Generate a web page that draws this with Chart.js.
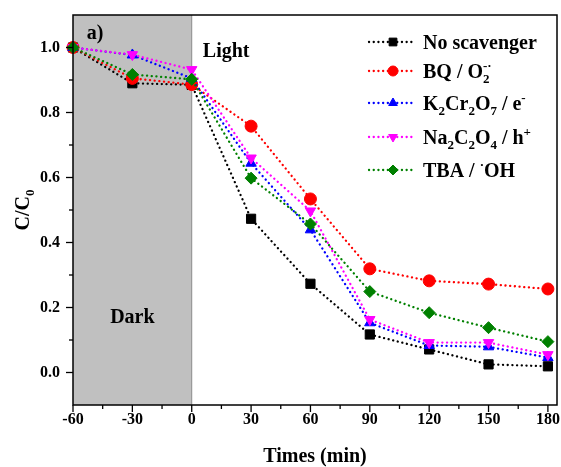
<!DOCTYPE html>
<html>
<head>
<meta charset="utf-8">
<script src="https://cdn.jsdelivr.net/npm/chart.js@4.4.1/dist/chart.umd.min.js"></script>
<style>
  html, body { margin: 0; padding: 0; background: #fff; }
  canvas { display: block; }
</style>
</head>
<body>
<canvas id="chart" width="561" height="467"></canvas>
<script>
// time points (min), dark adsorption from -60 to 0, light after 0
const times = [-60, -30, 0, 30, 60, 90, 120, 150, 180];

const noScavenger = [1.0, 0.890, 0.885, 0.473, 0.273, 0.117, 0.071, 0.025, 0.019];
const bqO2 = [1.0, 0.905, 0.886, 0.758, 0.534, 0.319, 0.282, 0.272, 0.257];
const k2cr2o7 = [1.0, 0.977, 0.905, 0.644, 0.439, 0.153, 0.083, 0.079, 0.046];
const na2c2o4 = [1.0, 0.978, 0.932, 0.660, 0.497, 0.163, 0.092, 0.092, 0.055];
const tbaOH = [1.0, 0.917, 0.902, 0.598, 0.457, 0.249, 0.184, 0.138, 0.095];

// legend labels, _{..} = subscript, ^{..} = superscript
const seriesLabels = [
  'No scavenger',
  'BQ / O_{2}^{-·}',
  'K_{2}Cr_{2}O_{7} / e^{-}',
  'Na_{2}C_{2}O_{4} / h^{+}',
  'TBA / ^{·}OH'
];
const seriesColors = ['#000000', '#ff0000', '#0000ff', '#ff00ff', '#008000'];
const seriesShapes = ['rect', 'circle', 'triangle', 'triangle', 'rectRot'];
const seriesRotation = [0, 0, 0, 180, 0];
const seriesValues = [noScavenger, bqO2, k2cr2o7, na2c2o4, tbaOH];

// tick positions (major every 30 min / 0.2, minor in between)
const xTicks = [-60, -45, -30, -15, 0, 15, 30, 45, 60, 75, 90, 105, 120, 135, 150, 165, 180];
const yTicks = [-0.1, 0, 0.1, 0.2, 0.3, 0.4, 0.5, 0.6, 0.7, 0.8, 0.9, 1.0, 1.1];
const darkRange = [-60, 0];

const FONT = "'Liberation Serif', 'Times New Roman', serif";

function parseRich(str) {
  const parts = [];
  const re = /([_^])\{([^}]*)\}|([^_^]+)/g;
  let m;
  while ((m = re.exec(str)) !== null) {
    if (m[3]) parts.push({ t: m[3], mode: '' });
    else parts.push({ t: m[2], mode: m[1] === '_' ? 'sub' : 'sup' });
  }
  return parts;
}

function drawRich(ctx, str, x, y, size) {
  const parts = parseRich(str);
  const small = Math.round(size * 0.65);
  let cx = x;
  let subStart = null;
  parts.forEach(p => {
    if (p.mode === '') {
      ctx.font = 'bold ' + size + 'px ' + FONT;
      ctx.fillText(p.t, cx, y);
      cx += ctx.measureText(p.t).width;
      subStart = null;
    } else if (p.mode === 'sub') {
      ctx.font = 'bold ' + small + 'px ' + FONT;
      ctx.fillText(p.t, cx, y + size * 0.25);
      subStart = cx;
      cx += ctx.measureText(p.t).width;
    } else {
      ctx.font = 'bold ' + small + 'px ' + FONT;
      const sx = subStart !== null ? subStart : cx;
      ctx.fillText(p.t, sx, y - size * 0.4);
      cx = Math.max(cx, sx + ctx.measureText(p.t).width);
      subStart = null;
    }
  });
}

const decorPlugin = {
  id: 'decor',
  beforeDatasetsDraw(chart) {
    const { ctx, chartArea: a, scales: { x } } = chart;
    const x0 = x.getPixelForValue(darkRange[0]);
    const x1 = x.getPixelForValue(darkRange[1]);
    ctx.save();
    ctx.fillStyle = '#c0c0c0';
    ctx.fillRect(x0, a.top, x1 - x0, a.bottom - a.top);
    ctx.strokeStyle = '#8c8c8c';
    ctx.lineWidth = 1;
    ctx.beginPath();
    ctx.moveTo(x1, a.top);
    ctx.lineTo(x1, a.bottom);
    ctx.stroke();
    ctx.restore();
  },
  afterDraw(chart) {
    const { ctx, chartArea: a, scales: { x, y } } = chart;
    ctx.save();
    // frame
    ctx.strokeStyle = '#000';
    ctx.lineWidth = 1.5;
    ctx.strokeRect(a.left, a.top, a.right - a.left, a.bottom - a.top);

    // tick marks: major with label, minor without
    ctx.lineWidth = 1.3;
    x.ticks.forEach(t => {
      const px = x.getPixelForValue(t.value);
      const len = Math.round(t.value) % 30 === 0 ? 7 : 4;
      ctx.beginPath();
      ctx.moveTo(px, a.bottom);
      ctx.lineTo(px, a.bottom + len);
      ctx.stroke();
    });
    y.ticks.forEach(t => {
      if (t.value <= y.min + 1e-6 || t.value >= y.max - 1e-6) return;
      const py = y.getPixelForValue(t.value);
      const len = Math.round(t.value * 10) % 2 === 0 ? 7 : 4;
      ctx.beginPath();
      ctx.moveTo(a.left, py);
      ctx.lineTo(a.left - len, py);
      ctx.stroke();
    });

    // annotations
    ctx.fillStyle = '#000';
    ctx.textBaseline = 'alphabetic';
    ctx.font = 'bold 20px ' + FONT;
    ctx.textAlign = 'center';
    ctx.fillText('Dark', x.getPixelForValue(-30), y.getPixelForValue(0.153));
    ctx.textAlign = 'left';
    ctx.fillText('Light', x.getPixelForValue(5.6), y.getPixelForValue(0.972));
    ctx.fillText('a)', x.getPixelForValue(-53), y.getPixelForValue(1.025));

    // y axis title C/C0
    ctx.save();
    ctx.translate(a.left - 51, (a.top + a.bottom) / 2);
    ctx.rotate(-Math.PI / 2);
    ctx.font = 'bold 20px ' + FONT;
    const w1 = ctx.measureText('C/C').width;
    ctx.font = 'bold 13px ' + FONT;
    const w2 = ctx.measureText('0').width;
    drawRich(ctx, 'C/C_{0}', -(w1 + w2) / 2, 7, 20);
    ctx.restore();

    // legend
    const rowY = [42, 71, 103, 137, 170];
    const lx0 = a.right - 188, lx1 = a.right - 144, lm = a.right - 164, tx = a.right - 134;
    seriesLabels.forEach((lab, i) => {
      const ry = rowY[i];
      ctx.save();
      ctx.strokeStyle = seriesColors[i];
      ctx.lineWidth = 2.3;
      ctx.lineCap = 'round';
      ctx.setLineDash([0.1, 4.6]);
      ctx.beginPath();
      ctx.moveTo(lx0, ry);
      ctx.lineTo(lx1, ry);
      ctx.stroke();
      ctx.restore();
      ctx.save();
      ctx.fillStyle = seriesColors[i];
      ctx.strokeStyle = seriesColors[i];
      ctx.lineWidth = 1;
      Chart.helpers.drawPoint(ctx, {
        pointStyle: seriesShapes[i],
        radius: seriesShapes[i] === 'rect' ? 5.5 : 5,
        rotation: seriesRotation[i],
        borderWidth: 1
      }, lm, ry);
      ctx.restore();
      ctx.fillStyle = '#000';
      ctx.textAlign = 'left';
      drawRich(ctx, lab, tx, ry + 6.8, 20);
    });
    ctx.restore();
  }
};

const datasets = seriesValues.map((vals, i) => ({
  label: seriesLabels[i],
  data: times.map((t, k) => ({ x: t, y: vals[k] })),
  borderColor: seriesColors[i],
  backgroundColor: seriesColors[i],
  pointStyle: seriesShapes[i],
  rotation: seriesRotation[i],
  pointRadius: seriesShapes[i] === 'rect' ? 6.5 : 6,
  pointBorderWidth: 1,
  borderWidth: 2.3,
  borderDash: [0.1, 4.6],
  borderCapStyle: 'round',
  tension: 0,
  clip: false,
  order: seriesValues.length - i
}));

new Chart(document.getElementById('chart'), {
  type: 'line',
  data: { datasets },
  plugins: [decorPlugin],
  options: {
    responsive: false,
    animation: false,
    layout: { autoPadding: false, padding: { top: 15, right: 4, left: 0, bottom: 0 } },
    plugins: {
      legend: { display: false },
      tooltip: { enabled: false }
    },
    scales: {
      x: {
        type: 'linear',
        min: -60,
        max: 184.6,
        grid: { display: false, drawTicks: false },
        border: { display: false },
        afterBuildTicks: s => { s.ticks = xTicks.map(v => ({ value: v })); },
        ticks: {
          autoSkip: false,
          maxRotation: 0,
          padding: 5,
          color: '#000',
          font: { family: FONT, size: 16, weight: 'bold' },
          callback: v => (Math.round(v) % 30 === 0) ? String(Math.round(v)) : ''
        },
        title: {
          display: true,
          text: 'Times (min)',
          color: '#000',
          font: { family: FONT, size: 20, weight: 'bold', lineHeight: 1 },
          padding: { top: 0, bottom: 0 }
        },
        afterFit: s => { s.height = 62; s.paddingLeft = 0; s.paddingRight = 0; }
      },
      y: {
        min: -0.1,
        max: 1.1,
        grid: { display: false, drawTicks: false },
        border: { display: false },
        afterBuildTicks: s => { s.ticks = yTicks.map(v => ({ value: v })); },
        ticks: {
          autoSkip: false,
          padding: 13,
          color: '#000',
          font: { family: FONT, size: 16, weight: 'bold' },
          callback: v => {
            const k = Math.round(v * 10);
            return (k >= 0 && k <= 10 && k % 2 === 0) ? (k / 10).toFixed(1) : '';
          }
        },
        afterFit: s => { s.width = 73; s.paddingTop = 0; s.paddingBottom = 0; }
      }
    }
  }
});
</script>
</body>
</html>
